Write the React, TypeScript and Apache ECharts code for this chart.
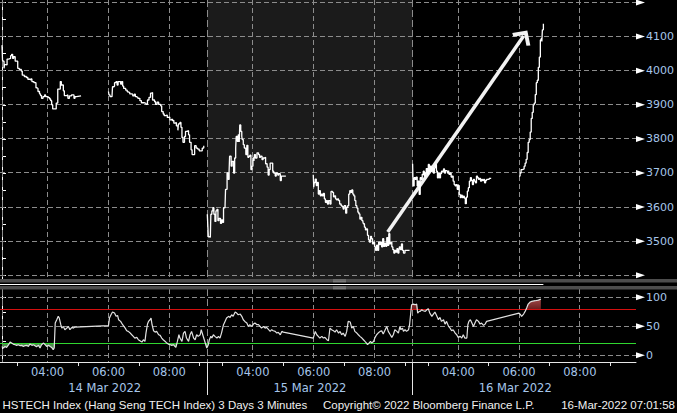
import React, { useEffect, useRef } from 'react';
import * as echarts from 'echarts';

// ---- axis / calendar ----
const DAY = 405; // each trading day shown as 02:30 .. 09:15 (405 min)
const OPEN = 150; // 02:30 in minutes
const dates = ['14 Mar 2022', '15 Mar 2022', '16 Mar 2022'];
const timeLabels = ['04:00', '06:00', '08:00'];
const minorTimes = ['03:00', '05:00', '07:00', '09:00'];
const priceTicks = [3400, 3450, 3500, 3550, 3600, 3650, 3700, 3750, 3800, 3850, 3900, 3950, 4000, 4050, 4100, 4150, 4200];
const priceGrid = [3400, 3500, 3600, 3700, 3800, 3900, 4000, 4100, 4200];
const priceLabels = [3500, 3600, 3700, 3800, 3900, 4000, 4100];
const rsiTicks = [0, 25, 50, 75, 100];
const rsiGrid = [0, 50, 100];
const rsiLabels = [0, 50, 100];
const rsiUpper = 80;
const rsiLower = 20;

// ---- price, 3-minute bars: [minutes after 02:30, value] ----
const day1Am = [[0,4075],[1,4031],[2,4028],[4,4007],[5,4018],[8,4017],[10,4034],[13,4036],[17,4044],[19,4048],[21,4036],[23,4041],[26,4028],[31,4007],[34,4004],[38,3999],[40,3987],[44,3983],[48,3980],[51,3975],[55,3973],[57,3976],[59,3968],[63,3965],[67,3950],[69,3948],[71,3939],[74,3932],[76,3927],[78,3919],[81,3924],[84,3929],[86,3924],[91,3921],[94,3917],[96,3912],[98,3900],[100,3888],[105,3888],[107,3905],[110,3946],[113,3946],[115,3968],[117,3958],[119,3958],[121,3941],[123,3927],[128,3929],[130,3919],[133,3926],[137,3929],[142,3919],[144,3924],[147,3926],[156,3926]];
const day1Pm = [[210,3939],[211,3929],[213,3924],[217,3924],[218,3953],[221,3955],[222,3965],[225,3968],[227,3958],[229,3968],[232,3968],[234,3961],[236,3968],[238,3955],[240,3948],[244,3943],[247,3938],[249,3936],[252,3932],[255,3931],[258,3926],[261,3931],[263,3924],[265,3922],[268,3919],[272,3912],[275,3906],[278,3906],[281,3904],[284,3901],[287,3914],[290,3922],[293,3934],[295,3936],[297,3914],[301,3909],[303,3901],[306,3908],[309,3901],[313,3897],[315,3880],[318,3873],[320,3868],[323,3870],[326,3863],[328,3864],[331,3856],[334,3858],[336,3854],[339,3846],[341,3848],[344,3838],[347,3825],[348,3844],[351,3848],[353,3834],[355,3804],[357,3790],[360,3807],[362,3822],[365,3824],[368,3812],[370,3790],[373,3768],[375,3754],[378,3754],[380,3780],[383,3773],[386,3770],[389,3765],[393,3765],[395,3773],[398,3780]];
const day2Am = [[0,3579],[1,3545],[2,3513],[5,3513],[6,3511],[7,3579],[9,3589],[11,3598],[13,3579],[15,3558],[17,3589],[19,3593],[21,3560],[23,3567],[26,3552],[28,3562],[30,3555],[32,3598],[35,3603],[36,3652],[39,3700],[41,3681],[43,3705],[44,3749],[47,3720],[49,3734],[52,3700],[54,3744],[56,3773],[57,3807],[59,3793],[61,3812],[63,3791],[64,3841],[66,3822],[68,3807],[69,3798],[71,3783],[73,3773],[76,3754],[78,3781],[80,3746],[82,3749],[84,3752],[86,3710],[88,3720],[90,3744],[92,3735],[93,3754],[95,3744],[98,3759],[101,3754],[103,3746],[105,3749],[108,3739],[110,3744],[113,3746],[115,3727],[118,3717],[120,3694],[122,3710],[124,3729],[127,3729],[129,3705],[131,3700],[134,3691],[136,3700],[139,3694],[141,3698],[144,3678],[146,3691],[149,3691],[155,3691]];
const day2Pm = [[209,3695],[210,3658],[211,3672],[213,3682],[215,3663],[217,3672],[219,3638],[221,3648],[223,3633],[225,3638],[227,3633],[229,3640],[231,3624],[233,3614],[235,3619],[237,3609],[239,3619],[242,3609],[244,3646],[247,3643],[249,3630],[251,3633],[253,3624],[255,3621],[257,3624],[259,3619],[261,3609],[264,3604],[266,3601],[268,3594],[270,3604],[273,3582],[275,3599],[277,3604],[279,3638],[281,3648],[283,3643],[285,3650],[287,3638],[289,3633],[291,3619],[293,3604],[295,3597],[297,3585],[299,3580],[301,3565],[303,3570],[305,3560],[307,3556],[308,3551],[310,3541],[312,3533],[314,3536],[316,3517],[318,3504],[320,3497],[322,3514],[324,3507],[326,3492],[328,3497],[330,3483],[332,3473],[334,3488],[336,3473],[338,3497],[340,3490],[342,3497],[344,3483],[346,3507],[348,3485],[350,3494],[352,3485],[354,3510],[356,3488],[358,3522],[360,3492],[362,3497],[364,3483],[366,3475],[368,3465],[370,3473],[372,3468],[374,3478],[376,3465],[378,3473],[379,3483],[381,3475],[383,3492],[385,3473],[387,3465],[390,3473],[393,3473],[399,3475]];
const day3Am = [[0,3727],[1,3662],[3,3686],[5,3681],[7,3688],[9,3662],[11,3676],[13,3637],[15,3686],[17,3681],[19,3696],[21,3705],[23,3691],[25,3700],[27,3713],[29,3696],[31,3725],[33,3705],[35,3720],[37,3705],[39,3715],[41,3700],[43,3715],[45,3725],[47,3705],[49,3686],[51,3700],[53,3686],[55,3698],[57,3705],[59,3705],[61,3712],[63,3700],[65,3707],[67,3705],[69,3700],[71,3707],[72,3696],[74,3700],[76,3688],[78,3691],[80,3676],[82,3666],[84,3662],[86,3666],[88,3652],[90,3663],[92,3637],[94,3628],[96,3635],[98,3628],[100,3632],[102,3626],[104,3610],[106,3629],[108,3647],[110,3657],[112,3676],[114,3686],[116,3678],[118,3666],[120,3681],[122,3676],[124,3671],[126,3691],[128,3686],[130,3681],[132,3684],[134,3676],[136,3681],[138,3678],[140,3681],[142,3671],[144,3678],[146,3681],[149,3681],[151,3684],[155,3684]];
const day3Pm = [[210,3691],[212,3700],[214,3710],[217,3712],[220,3720],[222,3729],[224,3740],[226,3760],[228,3790],[230,3798],[232,3820],[234,3860],[236,3878],[238,3900],[240,3905],[242,3930],[244,3965],[246,3972],[248,4010],[250,4040],[252,4090],[254,4096],[255,4086],[256,4120],[258,4138]];

// ---- RSI: [minutes on the 3-day axis, value] ----
const rsi = [[0,15.4],[1,13.7],[3,12.6],[6,15.4],[9,13.7],[13,18.3],[16,22.9],[19,21.2],[22,19.4],[26,18.3],[29,17.2],[32,18.3],[36,16.6],[39,17.2],[42,15.4],[45,16.6],[49,17.2],[52,15.4],[55,19.4],[59,17.2],[62,18.3],[65,16.6],[68,14.9],[72,17.2],[75,12.6],[78,18.3],[82,21.2],[85,18.3],[88,15.4],[92,17.2],[95,15.4],[98,13.7],[101,9.7],[103,12.6],[105,55.7],[108,61.4],[111,67.2],[113,64.3],[116,52.8],[118,47],[121,49.9],[124,44.2],[128,47],[131,49.9],[134,44.2],[138,48.2],[141,47],[144,48.8],[210,51.1],[212,64.3],[215,70],[218,74.6],[222,72.9],[225,67.2],[228,68.9],[230,61.4],[234,58.5],[238,52.8],[243,47],[246,42.4],[249,41.3],[253,38.4],[256,35.5],[259,32.7],[262,29.8],[266,30.9],[269,26.9],[272,25.2],[276,22.9],[279,26.9],[282,24],[284,38.4],[287,53.9],[289,58.5],[292,61.4],[294,64.3],[296,52.8],[299,42.4],[302,40.1],[305,41.3],[309,35.5],[312,34.4],[315,29.8],[318,26.9],[322,24],[325,21.2],[328,19.4],[332,18.3],[335,17.2],[338,18.3],[341,15.4],[343,13.7],[346,24],[349,35.5],[351,29.8],[355,24],[358,38.4],[361,41.3],[364,29.8],[368,24],[371,35.5],[374,41.3],[378,29.8],[381,26.9],[384,35.5],[387,32.7],[391,35.5],[393,44.2],[396,35.5],[399,26.9],[401,21.2],[404,12.6],[407,18.3],[409,26.9],[412,32.7],[414,29.8],[417,35.5],[420,32.7],[424,29.8],[427,32.7],[430,29.8],[433,38.4],[437,52.8],[440,58.5],[443,64.3],[447,67.2],[450,65.4],[453,70],[456,67.2],[460,74.6],[463,72.9],[466,70],[470,71.2],[473,67.2],[476,61.4],[479,58.5],[483,55.7],[486,49.9],[489,52.8],[493,49.9],[496,53.9],[499,55.7],[503,52.8],[506,52.8],[509,49.9],[512,47],[516,49.9],[519,47],[522,48.2],[526,44.2],[529,41.3],[532,44.2],[535,42.4],[539,41.3],[542,38.4],[545,39.6],[549,35.5],[552,41.3],[555,40.1],[614,29.8],[618,41.3],[621,35.5],[624,32.7],[627,29.8],[631,32.7],[634,29.8],[637,31],[641,26.9],[644,25.2],[647,47],[650,44.2],[654,42.4],[657,40.1],[660,44.2],[664,38.4],[667,41.3],[670,35.5],[673,38.4],[677,32.7],[680,41.3],[683,58.5],[687,57.4],[690,47],[693,49.9],[696,41.3],[700,38.4],[703,35.5],[706,32.7],[710,29.8],[713,26.9],[716,24],[719,21.2],[721,18.3],[724,21.2],[727,24],[729,21.2],[733,24],[736,31],[739,35.5],[742,38.4],[746,41.3],[749,42.4],[752,36.6],[756,44.2],[759,49.9],[762,41.3],[766,35.5],[769,31],[772,35.5],[775,44.2],[779,41.3],[782,38.4],[785,49.9],[787,44.2],[790,47],[792,41.3],[795,44.2],[798,41.3],[802,44.2],[804,52.8],[806,70],[808,87.3],[812,88.4],[815,87.3],[818,88.4],[820,72.9],[823,75.8],[825,75.8],[828,78.6],[831,76.9],[835,75.8],[838,78.6],[841,80.4],[844,72.9],[848,67.2],[851,71.2],[854,74.6],[858,67.2],[861,61.4],[864,65.4],[867,58.5],[871,61.4],[874,53.9],[877,58.5],[881,49.9],[884,47],[887,42.4],[890,44.2],[894,38.4],[897,35.5],[900,31],[904,32.7],[907,29.8],[910,35.5],[913,29.8],[917,29.8],[919,52.8],[921,58.5],[924,61.4],[927,55.7],[930,49.9],[933,55.7],[936,61.4],[940,58.5],[943,53.9],[946,55.7],[950,51.6],[953,53.9],[956,58.5],[1020,72.9],[1023,70],[1025,67.2],[1029,71.2],[1032,75.8],[1035,81.5],[1038,88.4],[1042,91.9],[1045,93],[1052,94.2],[1058,95.3],[1063,97]];

// ---- annotation arrow (day index, time, value) ----
const arrowFrom = { day: 1, time: '08:26', value: 3527 };
const arrowTo = { day: 2, time: '06:09', value: 4102 };

const statusLeft = 'HSTECH Index (Hang Seng TECH Index) 3 Days 3 Minutes';
const statusMid = 'Copyright\u00a9 2022 Bloomberg Finance L.P.';
const statusRight = '16-Mar-2022 07:01:58';

const toMin = (t: string) => { const [h, m] = t.split(':').map(Number); return h * 60 + m - OPEN; };
const atX = (day: number, t: string) => day * DAY + toMin(t);
const pad = (n: number) => (n < 10 ? '0' : '') + n;
const fmtTime = (v: number) => { const m = Math.round(((v % DAY) + DAY) % DAY) + OPEN; return pad(Math.floor(m / 60)) + ':' + pad(m % 60); };

const X_MIN = -3.95;
const X_MAX = 1250.7;
const BLUE = '#a6c6ea';
const FONT = 'DejaVu Sans';

export default function App() {
  const ref = useRef<HTMLDivElement>(null);
  useEffect(() => {
    if (!ref.current) return;
    const chart = echarts.init(ref.current, null, { renderer: 'svg' });

    const sessions: [number, number[][]][] = [[0, day1Am], [0, day1Pm], [1, day2Am], [1, day2Pm], [2, day3Am], [2, day3Pm]];
    const dayIdx = [0, 1, 2];
    const gridXs = dayIdx.flatMap((d) => timeLabels.map((t) => atX(d, t)));
    const minorXs = dayIdx.flatMap((d) => minorTimes.map((t) => atX(d, t)));
    const boundaries = dayIdx.map((d) => d * DAY);

    const priceSeries = sessions.map(([d, pts]) => ({
      type: 'line', xAxisIndex: 0, yAxisIndex: 0, step: 'end', showSymbol: false, silent: true, z: 5,
      lineStyle: { color: '#ffffff', width: 1.3 },
      data: pts.map(([m, v]) => [d * DAY + m, v]),
    }));

    const option: any = {
      animation: false,
      backgroundColor: '#000000',
      textStyle: { fontFamily: FONT },
      grid: [
        { left: 0, top: 0, width: 636, height: 279 },
        { left: 0, top: 289, width: 636, height: 73 },
        { left: 0, top: 289, width: 636, height: 73 },
      ],
      xAxis: [
        { gridIndex: 0, type: 'value', min: X_MIN, max: X_MAX, show: false },
        {
          gridIndex: 1, type: 'value', min: X_MIN, max: X_MAX, position: 'bottom',
          axisLine: { show: true, onZero: false, lineStyle: { color: '#e6e6e6', width: 1 } },
          axisTick: { show: true, customValues: minorXs, length: 4, lineStyle: { color: '#e6e6e6' } },
          axisLabel: { customValues: gridXs, formatter: (v: number) => fmtTime(v), color: BLUE, fontSize: 11.5, margin: 4, fontFamily: FONT },
          splitLine: { show: false },
        },
        {
          gridIndex: 2, type: 'value', min: X_MIN, max: X_MAX, position: 'bottom',
          axisLine: { show: false, onZero: false },
          axisTick: { show: true, customValues: [DAY, 2 * DAY], length: 33, lineStyle: { color: '#e6e6e6' } },
          axisLabel: { customValues: dayIdx.map((d) => d * DAY + DAY / 2), formatter: (v: number) => dates[Math.floor(v / DAY)], color: BLUE, fontSize: 11.5, margin: 20, fontFamily: FONT },
          splitLine: { show: false },
        },
      ],
      yAxis: [
        {
          gridIndex: 0, type: 'value', position: 'right', min: 3389, max: 4207.4,
          axisLine: { show: true, lineStyle: { color: '#ffffff', width: 1 } },
          axisTick: { show: true, customValues: priceTicks, length: 4, lineStyle: { color: '#ffffff' } },
          axisLabel: { customValues: priceLabels, formatter: (v: number) => String(v), color: BLUE, fontSize: 11, margin: 10, fontFamily: FONT },
          splitLine: { show: false },
        },
        {
          gridIndex: 1, type: 'value', position: 'right', min: -11.5, max: 114.4,
          axisLine: { show: true, lineStyle: { color: '#ffffff', width: 1 } },
          axisTick: { show: true, customValues: rsiTicks, length: 4, lineStyle: { color: '#ffffff' } },
          axisLabel: { customValues: rsiLabels, formatter: (v: number) => String(v), color: BLUE, fontSize: 11, margin: 10, fontFamily: FONT },
          splitLine: { show: false },
        },
        { gridIndex: 2, type: 'value', show: false, min: 0, max: 1 },
      ],
      series: [
        {
          type: 'line', xAxisIndex: 0, yAxisIndex: 0, data: [], z: 0, silent: true,
          markArea: { silent: true, itemStyle: { color: '#1b1b1b' }, data: [[{ xAxis: DAY }, { xAxis: 2 * DAY }]] },
        },
        ...priceSeries,
        {
          type: 'line', xAxisIndex: 0, yAxisIndex: 0, data: [], z: 8, silent: true,
          markLine: {
            silent: true, label: { show: false }, animation: false,
            symbol: ['none', 'path://M50,0 L100,52 L86,64 L50,26 L14,64 L0,52 Z'],
            symbolSize: [22, 13],
            lineStyle: { color: '#f2f2f2', width: 3.5, type: 'solid' },
            data: [[
              { coord: [atX(arrowFrom.day, arrowFrom.time), arrowFrom.value] },
              { coord: [atX(arrowTo.day, arrowTo.time), arrowTo.value] },
            ]],
          },
        },
        {
          type: 'line', xAxisIndex: 1, yAxisIndex: 1, data: [], z: 2, silent: true,
          markLine: {
            silent: true, symbol: 'none', label: { show: false }, animation: false,
            data: [
              { yAxis: rsiUpper, lineStyle: { color: '#d40f0f', width: 1.2, type: 'solid' } },
              { yAxis: rsiLower, lineStyle: { color: '#2fd62f', width: 1.2, type: 'solid' } },
            ],
          },
        },
        {
          type: 'line', xAxisIndex: 1, yAxisIndex: 1, showSymbol: false, silent: true, z: 3,
          lineStyle: { width: 0 }, areaStyle: { color: '#4e8a4e', opacity: 1, origin: rsiLower },
          data: rsi.map(([m, v]) => [m, Math.min(v, rsiLower)]),
        },
        {
          type: 'line', xAxisIndex: 1, yAxisIndex: 1, showSymbol: false, silent: true, z: 3,
          lineStyle: { width: 0 },
          areaStyle: { opacity: 1, origin: rsiUpper, color: new echarts.graphic.LinearGradient(0, 0, 0, 1, [{ offset: 0, color: '#a04848' }, { offset: 1, color: '#6a2020' }]) },
          data: rsi.map(([m, v]) => [m, Math.max(v, rsiUpper)]),
        },
        {
          type: 'line', xAxisIndex: 1, yAxisIndex: 1, showSymbol: false, silent: true, z: 5,
          lineStyle: { color: '#e2e2e2', width: 1.2 },
          data: rsi,
        },
      ],
    };
    chart.setOption(option);

    // grid lines (snapped to crisp pixels), axis pointer triangles, separator and status line
    const snap = (p: number) => Math.round(p - 0.5) + 0.5;
    const px = (axis: any, v: number) => chart.convertToPixel(axis, v) as number;
    const xr = px({ xAxisIndex: 0 }, X_MAX);
    const xl = 0;
    const last = day3Pm[day3Pm.length - 1];
    const xLast = px({ xAxisIndex: 0 }, 2 * DAY + last[0]);
    const panels = [
      { top: px({ yAxisIndex: 0 }, 4207.4), bottom: px({ yAxisIndex: 0 }, 3389) },
      { top: px({ yAxisIndex: 1 }, 114.4), bottom: px({ yAxisIndex: 1 }, -11.5) },
    ];
    const vline = (x: number, y1: number, y2: number, dash: number[], color: string) => ({
      type: 'line', silent: true, z: 1, shape: { x1: x, y1, x2: x, y2 }, style: { stroke: color, lineWidth: 1, lineDash: dash },
    });
    const hline = (y: number, dash: number[], color: string) => ({
      type: 'line', silent: true, z: 1, shape: { x1: xl, y1: y, x2: xr, y2: y }, style: { stroke: color, lineWidth: 1, lineDash: dash },
    });
    const gridLines: any[] = [];
    panels.forEach((p) => {
      boundaries.forEach((x) => gridLines.push(vline(snap(px({ xAxisIndex: 0 }, x)), p.top, p.bottom, [7, 3], '#8c8c8c')));
      gridXs.forEach((x) => gridLines.push(vline(snap(px({ xAxisIndex: 0 }, x)), p.top, p.bottom, [5, 3], '#8c8c8c')));
    });
    priceGrid.forEach((v) => gridLines.push(hline(snap(px({ yAxisIndex: 0 }, v)), [5, 3], '#8c8c8c')));
    rsiGrid.forEach((v) => gridLines.push(hline(snap(px({ yAxisIndex: 1 }, v)), [5, 3], '#8c8c8c')));

    const tri = (y: number) => ({ type: 'polygon', silent: true, z: 100, shape: { points: [[xr, y - 3], [xr + 9, y], [xr, y + 3]] }, style: { fill: '#ffffff' } });
    const graphics: any[] = [
      ...gridLines,
      ...priceGrid.map((v) => tri(px({ yAxisIndex: 0 }, v))),
      ...rsiLabels.map((v) => tri(px({ yAxisIndex: 1 }, v))),
      { type: 'rect', silent: true, z: 100, shape: { x: 0, y: 279, width: 677, height: 3.5 }, style: { fill: '#4d4d4d' } },
      { type: 'rect', silent: true, z: 100, shape: { x: 0, y: 286, width: 677, height: 3.5 }, style: { fill: '#4d4d4d' } },
      { type: 'line', silent: true, z: 100, shape: { x1: 0, y1: 284.5, x2: xLast, y2: 284.5 }, style: { stroke: '#ffffff', lineWidth: 1 } },
      { type: 'line', silent: true, z: 100, shape: { x1: 333, y1: 280, x2: 346, y2: 280 }, style: { stroke: '#9a9a9a', lineWidth: 0.8 } },
      { type: 'line', silent: true, z: 100, shape: { x1: 333, y1: 281.8, x2: 346, y2: 281.8 }, style: { stroke: '#9a9a9a', lineWidth: 0.8 } },
      { type: 'line', silent: true, z: 100, shape: { x1: 333, y1: 287, x2: 346, y2: 287 }, style: { stroke: '#9a9a9a', lineWidth: 0.8 } },
      { type: 'line', silent: true, z: 100, shape: { x1: 333, y1: 288.8, x2: 346, y2: 288.8 }, style: { stroke: '#9a9a9a', lineWidth: 0.8 } },
      { type: 'text', silent: true, z: 100, left: 2.5, top: 398.5, style: { text: statusLeft, fill: '#f0f0f0', font: '11.5px "Liberation Sans"' } },
      { type: 'text', silent: true, z: 100, left: 323, top: 398.5, style: { text: statusMid, fill: '#f0f0f0', font: '11.5px "Liberation Sans"' } },
      { type: 'text', silent: true, z: 100, right: 2, top: 398.5, style: { text: statusRight, fill: '#f0f0f0', font: '11.5px "Liberation Sans"' } },
    ];
    chart.setOption({ graphic: graphics });

    return () => chart.dispose();
  }, []);
  return <div ref={ref} style={{ position: 'fixed', left: 0, top: 0, width: 677, height: 413, background: '#000' }} />;
}
